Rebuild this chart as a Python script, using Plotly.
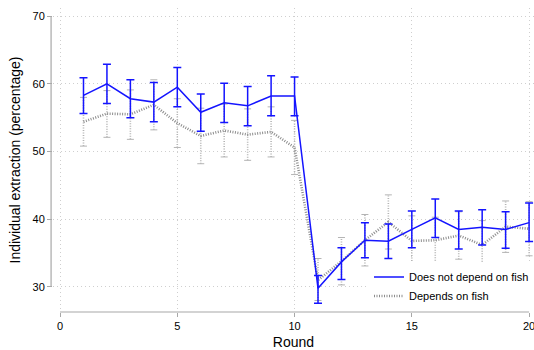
import plotly.graph_objects as go

rounds = list(range(1, 21))

# Does not depend on fish: mean and 95% CI bounds
indep_mean = [58.3, 60.0, 57.8, 57.3, 59.5, 55.8, 57.2, 56.75, 58.2, 58.2,
              29.8, 33.7, 36.9, 36.75, 38.5, 40.2, 38.5, 38.8, 38.5, 39.5]
indep_hi = [60.9, 62.9, 60.6, 60.2, 62.4, 58.5, 60.1, 59.6, 61.2, 61.0,
            31.7, 35.8, 39.5, 39.3, 41.2, 43.0, 41.2, 41.4, 41.1, 42.4]
indep_lo = [55.6, 57.1, 55.0, 54.4, 56.6, 53.0, 54.3, 53.8, 55.3, 55.3,
            27.6, 31.1, 34.3, 34.2, 35.8, 37.3, 35.6, 36.2, 35.7, 36.7]

# Depends on fish: mean and 95% CI bounds
dep_mean = [54.4, 55.6, 55.5, 56.9, 54.2, 52.3, 53.1, 52.5, 52.9, 50.6,
            31.0, 33.8, 36.9, 39.6, 36.8, 36.9, 37.6, 36.2, 38.9, 38.6]
dep_hi = [58.0, 59.0, 59.1, 60.6, 57.8, 56.4, 57.0, 56.3, 56.6, 54.6,
          34.2, 37.3, 40.7, 43.6, 40.5, 40.3, 41.1, 39.8, 42.7, 42.6]
dep_lo = [50.8, 52.1, 51.8, 53.2, 50.6, 48.2, 49.2, 48.7, 49.2, 46.6,
          28.0, 30.3, 33.1, 35.6, 33.1, 33.5, 34.1, 32.6, 35.1, 34.6]

x_ticks = [0, 5, 10, 15, 20]
y_ticks = [30, 40, 50, 60, 70]

BLUE = "#1414ff"
GRAY = "#8c8c8c"
AXIS = "#a8a8a8"
GRID = "#cfcfcf"
FONT = "Liberation Sans, Arial, sans-serif"

fig = go.Figure()

# dotted CI whiskers for the "depends on fish" group
seg_x, seg_y = [], []
for r, lo, hi in zip(rounds, dep_lo, dep_hi):
    seg_x += [r, r, None]
    seg_y += [lo, hi, None]
fig.add_trace(go.Scatter(x=seg_x, y=seg_y, mode="lines",
                         line=dict(color="#b4b4b4", width=1.6, dash="1px,1.5px"),
                         showlegend=False, hoverinfo="skip"))
fig.add_trace(go.Scatter(x=rounds + rounds, y=dep_lo + dep_hi, mode="markers",
                         marker=dict(symbol="line-ew", size=5,
                                     line=dict(color="#b4b4b4", width=1)),
                         showlegend=False, hoverinfo="skip"))

fig.add_trace(go.Scatter(x=rounds, y=dep_mean, mode="lines",
                         name="Depends on fish", legendrank=2,
                         line=dict(color=GRAY, width=2.6, dash="1px,1.5px")))

fig.add_trace(go.Scatter(
    x=rounds, y=indep_mean, mode="lines", name="Does not depend on fish",
    legendrank=1, line=dict(color=BLUE, width=1.5),
    error_y=dict(type="data", symmetric=False,
                 array=[h - m for h, m in zip(indep_hi, indep_mean)],
                 arrayminus=[m - l for m, l in zip(indep_mean, indep_lo)],
                 color=BLUE, thickness=1.5, width=4)))

# axis lines spanning only the labelled range
fig.add_shape(type="line", xref="paper", yref="y", x0=-0.004, x1=-0.004,
              y0=y_ticks[0], y1=y_ticks[-1], line=dict(color=AXIS, width=1.2))
fig.add_shape(type="line", xref="x", yref="paper", x0=x_ticks[0], x1=x_ticks[-1],
              y0=0, y1=0, line=dict(color=AXIS, width=1.2))

fig.update_layout(
    width=534, height=350,
    margin=dict(l=53, r=0, t=8, b=38),
    paper_bgcolor="white", plot_bgcolor="white",
    font=dict(family=FONT, color="black", size=11),
    xaxis=dict(range=[-0.3, 20.21], tickvals=x_ticks, ticks="outside",
               ticklen=4, tickcolor=AXIS, showline=False, zeroline=False,
               showgrid=True, gridcolor=GRID, griddash="1px,3px", gridwidth=1,
               tickfont=dict(size=11), ticklabeloverflow="allow",
               title=dict(text="Round", font=dict(size=14), standoff=6)),
    yaxis=dict(range=[26.3, 71.2], tickvals=y_ticks, ticks="outside",
               ticklen=5, tickcolor=AXIS, showline=False, zeroline=False,
               showgrid=True, gridcolor=GRID, griddash="1px,3px", gridwidth=1,
               tickfont=dict(size=11),
               title=dict(text="Individual extraction (percentage)",
                          font=dict(size=14), standoff=8)),
    legend=dict(x=1.0, y=0.005, xanchor="right", yanchor="bottom",
                bgcolor="white", borderwidth=0, font=dict(size=11),
                tracegroupgap=0, itemwidth=30),
    showlegend=True,
)

fig.write_html("out.html")
